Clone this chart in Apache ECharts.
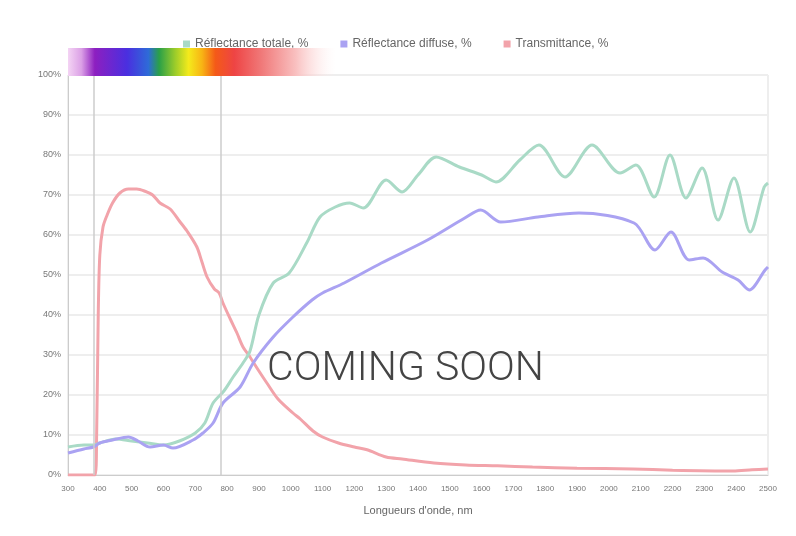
<!DOCTYPE html>
<html>
<head>
<meta charset="utf-8">
<script src="https://cdn.jsdelivr.net/npm/echarts@6/dist/echarts.min.js"></script>
<style>
  html, body { margin: 0; padding: 0; background: #fff; }
  #chart { width: 796px; height: 536px; }
</style>
</head>
<body>
<div id="chart"></div>
<script>
// longueurs d'onde (nm) et valeurs (%)
var totalNm  = [300,350,380,400,450,500,550,600,650,700,730,756,790,819,850,872,900,945,995,1050,1092,1140,1185,1228,1300,1350,1400,1457,1530,1600,1645,1720,1780,1862,1947,2035,2085,2142,2192,2242,2293,2343,2393,2444,2488,2500];
var totalPct = [7,7.5,7.5,8,9,8.5,8,7.5,8.5,10.5,13,18,21,24.5,28,31,40,48,50.5,58,64.5,67,68,66.75,73.75,70.75,75,79.5,77,75,73.25,78.75,82.5,74.5,82.5,75.5,77.5,69.5,80,69.25,76.75,63.75,74.25,60.75,72,73];

var diffuseNm  = [300,350,380,400,440,490,520,558,600,630,693,724,756,787,841,882,945,1007,1067,1100,1168,1285,1430,1547,1597,1660,1777,1906,2079,2145,2195,2252,2296,2356,2406,2441,2491,2500];
var diffusePct = [5.5,6.5,7,8,8.75,9.5,8.5,7,7.5,6.75,8.75,10.5,13,18,22,28,34.5,39.5,43.75,45.5,48,53,58.75,64.25,66.25,63.25,64.5,65.5,63,56.25,60.75,53.75,54.25,50.75,48.75,46.25,51.25,52];

var transNm  = [300,370,385,390,395,400,410,423,440,463,490,516,540,566,589,621,650,674,705,720,737,760,775,787,810,831,850,872,900,925,960,1007,1030,1070,1100,1150,1200,1240,1300,1350,1450,1550,1650,1760,1900,2076,2200,2390,2450,2500];
var transPct = [0,0,0,10,40,55,62,65,68,70.5,71.5,71.5,71,70,68,66.5,63.5,61,57,53.5,49.5,46.5,45.5,43,39,35.5,32,29.5,26,23,19,15.5,14,11,9.5,8,7,6.3,4.5,4,3,2.5,2.3,2,1.7,1.5,1.2,1,1.3,1.5];

var seriesNames = ['Réflectance totale, %', 'Réflectance diffuse, %', 'Transmittance, %'];
var visibleBounds = [380, 780];

function pairs(xs, ys) {
	var out = [];
	for (var i = 0; i < xs.length; i++) {
		out.push([xs[i], ys[i]]);
	}
	return out;
}

var chart = echarts.init(document.getElementById('chart'));

var option = {
	backgroundColor: '#fff',
	animation: false,
	legend: {
		top: 33,
		left: 178,
		itemGap: 32,
		icon: 'rect',
		itemWidth: 7,
		itemHeight: 7,
		textStyle: { color: '#666', fontSize: 12, fontFamily: 'Liberation Sans' },
		data: seriesNames
	},
	grid: {
		left: 68,
		right: 28,
		top: 75,
		bottom: 61,
		show: true,
		borderColor: '#ddd',
		borderWidth: 1
	},
	xAxis: {
		type: 'value',
		min: 300,
		max: 2500,
		interval: 100,
		name: "Longueurs d'onde, nm",
		nameLocation: 'middle',
		nameGap: 30,
		nameTextStyle: { color: '#666', fontSize: 11, fontFamily: 'Liberation Sans' },
		axisLine: { lineStyle: { color: '#ccc' } },
		axisTick: { show: false },
		axisLabel: {
			color: '#777', fontSize: 8, margin: 10, hideOverlap: false, fontFamily: 'Liberation Sans',
			formatter: function(v) { return String(v); }
		},
		splitLine: { show: false }
	},
	yAxis: {
		type: 'value',
		min: 0,
		max: 100,
		interval: 10,
		axisLine: { show: true, lineStyle: { color: '#ccc' } },
		axisTick: { show: false },
		axisLabel: { color: '#777', fontSize: 9, margin: 7, formatter: '{value}%', fontFamily: 'Liberation Sans' },
		splitLine: { lineStyle: { color: '#eee', width: 2 } }
	},
	series: [{
		name: seriesNames[0],
		type: 'line',
		showSymbol: false,
		smooth: 0.3,
		data: pairs(totalNm, totalPct),
		itemStyle: { color: '#a9dac6' },
		lineStyle: { color: '#a9dac6', width: 3 },
		z: 3
	}, {
		name: seriesNames[1],
		type: 'line',
		showSymbol: false,
		smooth: 0.3,
		data: pairs(diffuseNm, diffusePct),
		itemStyle: { color: '#aaa2f2' },
		lineStyle: { color: '#aaa2f2', width: 3 },
		z: 4
	}, {
		name: seriesNames[2],
		type: 'line',
		showSymbol: false,
		smooth: 0.3,
		data: pairs(transNm, transPct),
		itemStyle: { color: '#f2a3aa' },
		lineStyle: { color: '#f2a3aa', width: 3 },
		markLine: {
			silent: true,
			symbol: 'none',
			label: { show: false },
			lineStyle: { color: '#ccc', type: 'solid', width: 1.5 },
			data: visibleBounds.map(function(v) { return { xAxis: v }; })
		},
		z: 2
	}],
	graphic: [{
		type: 'rect',
		left: 68,
		top: 48,
		shape: { width: 268, height: 28 },
		style: {
			fill: new echarts.graphic.LinearGradient(0, 0, 1, 0, [
				{ offset: 0.00, color: '#f4d4f4' },
				{ offset: 0.05, color: '#dba0e6' },
				{ offset: 0.10, color: '#8d1fc0' },
				{ offset: 0.22, color: '#4a2fe0' },
				{ offset: 0.30, color: '#2e6bd8' },
				{ offset: 0.34, color: '#2aa048' },
				{ offset: 0.40, color: '#9ccc2a' },
				{ offset: 0.45, color: '#f4ea1c' },
				{ offset: 0.50, color: '#f8b414' },
				{ offset: 0.55, color: '#f45a18' },
				{ offset: 0.62, color: '#ee4444' },
				{ offset: 0.72, color: '#f07878' },
				{ offset: 0.85, color: '#f9c0c0' },
				{ offset: 1.00, color: 'rgba(255,240,240,0)' }
			])
		},
		z: 10
	}, {
		type: 'text',
		left: 267,
		top: 349,
		style: {
			text: 'COMING SOON',
			fill: '#444',
			fontSize: 41,
			fontFamily: 'Roboto',
			fontWeight: 300
		},
		z: 20
	}]
};

chart.setOption(option);
</script>
</body>
</html>
